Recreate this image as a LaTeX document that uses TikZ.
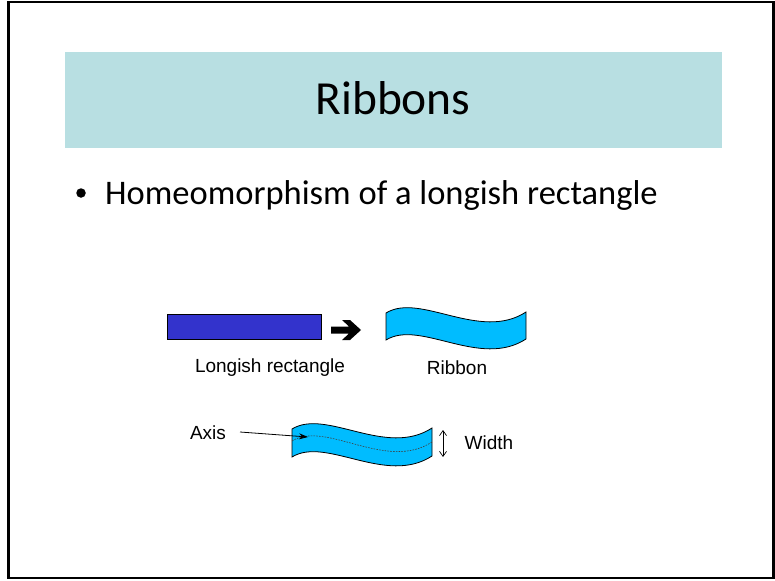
\documentclass[tikz,border=0pt]{standalone}
\usepackage{fontspec}
\setmainfont{Carlito}
\newfontfamily\arialfont{Liberation Sans}
\usetikzlibrary{arrows.meta}
\definecolor{titlefill}{RGB}{184,223,226}
\definecolor{rectblue}{RGB}{51,51,204}
\definecolor{ribboncyan}{RGB}{0,188,255}
\tikzset{
  frame/.style={draw=black, line width=2.6pt},
  titlebox/.style={fill=titlefill},
  ribbonshape/.style={fill=ribboncyan, draw=black, line width=0.8pt},
  lbl/.style={font=\arialfont\fontsize{19}{22}\selectfont, inner sep=0pt},
  axisline/.style={draw=black!75, line width=0.6pt, dash pattern=on 1.6pt off 1.2pt},
}
\begin{document}
\begin{tikzpicture}[x=1pt,y=-1pt]
\useasboundingbox (0,0) rectangle (775,580);
% frame
\draw[frame] (8.5,2) rectangle (773.5,578);
% title
\fill[titlebox] (65,52) rectangle (722,148);
\node[anchor=base, inner sep=0pt, font=\fontsize{47.5}{52}\selectfont] (title) at (393,115) {Ribbons};
% bullet
\node[circle, fill=black, inner sep=0pt, minimum size=9.5pt] (dot) at (81,193) {};
\node[anchor=base west, inner sep=0pt, font=\fontsize{34.5}{38}\selectfont] (bullettext) at (105,204) {Homeomorphism of a longish rectangle};
% longish rectangle
\node[draw=black, fill=rectblue, line width=0.8pt, minimum width=154pt, minimum height=25pt, inner sep=0pt] (rect) at (244,326.5) {};
% thick arrow
\fill[black] (331,326.5) -- (349,326.5) -- (342,320) -- (350,320) -- (361,330) -- (350,340) -- (342,340) -- (349,333.5) -- (331,333.5) -- cycle;
% ribbon 1
\path[ribbonshape] (386,313) .. controls (420,292) and (480,342) .. (526,312) -- (526,339) .. controls (480,369) and (420,319) .. (386,340) -- cycle;
% labels
\node[lbl] (lrect) at (270,368) {Longish rectangle};
\node[lbl] (lribbon) at (457,368) {Ribbon};
% ribbon 2
\path[ribbonshape] (292,429) .. controls (326,408) and (386,458) .. (432,428) -- (432,456) .. controls (386,486) and (326,436) .. (292,457) -- cycle;
\draw[axisline] (292,441) .. controls (326,420) and (386,472) .. (432,442);
% axis label and arrow
\node[lbl] (axis) at (208,433) {Axis};
\coordinate (axstart) at (240,432);
\coordinate (axtip) at (308,437);
\draw[line width=0.8pt, -{Stealth[length=9pt,width=6pt]}] (axstart) -- (axtip);
% width
\coordinate (wtop) at (443,430);
\coordinate (wbot) at (443,457);
\draw[line width=0.7pt, {Straight Barb[length=5pt,width=7pt]}-{Straight Barb[length=5pt,width=7pt]}] (wtop) -- (wbot);
\node[lbl] (width) at (489,443) {Width};
\end{tikzpicture}
\end{document}
